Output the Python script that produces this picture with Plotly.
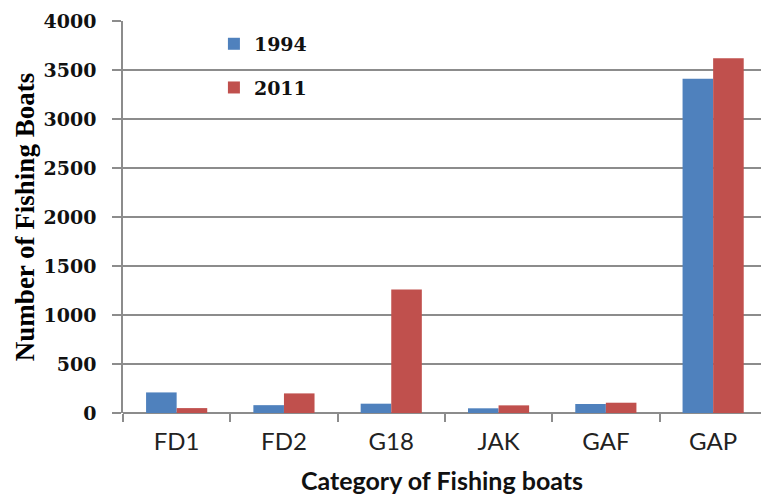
import plotly.graph_objects as go

categories = ["FD1", "FD2", "G18", "JAK", "GAF", "GAP"]
boats_1994 = [210, 80, 95, 48, 92, 3410]
boats_2011 = [50, 200, 1260, 78, 105, 3620]

BLUE = "#4F81BD"
RED = "#C0504D"
GRID = "#8C8C8C"
SERIF = "DejaVu Serif"

fig = go.Figure()
fig.add_trace(go.Bar(name="1994", x=categories, y=boats_1994,
                     marker=dict(color=BLUE, line=dict(width=0)),
                     legendgroup="a"))
fig.add_trace(go.Bar(name="2011", x=categories, y=boats_2011,
                     marker=dict(color=RED, line=dict(width=0)),
                     legendgroup="b"))

fig.update_layout(
    width=761, height=495,
    margin=dict(l=123, r=0, t=21, b=82),
    paper_bgcolor="white", plot_bgcolor="white",
    barmode="group", bargap=0.43, bargroupgap=0,
    showlegend=True,
    legend=dict(x=0.1425, y=0.99, xanchor="left", yanchor="top",
                bgcolor="rgba(0,0,0,0)", tracegroupgap=16,
                font=dict(family=SERIF, size=19, color="#111", weight="bold"),
                itemwidth=30),
    xaxis=dict(
        range=[-0.5, 5.446],
        showgrid=False, showline=False, zeroline=False,
        ticks="outside", tickson="boundaries", ticklen=8,
        tickcolor=GRID, tickwidth=1.5,
        ticklabelstandoff=12,
        tickfont=dict(family="Lato", size=24, color="#222"),
        title=dict(text="<b>Category of Fishing boats</b>",
                   font=dict(family="Lato", size=25, color="#111"),
                   standoff=18),
    ),
    yaxis=dict(
        range=[0, 4000], dtick=500,
        showgrid=True, gridcolor=GRID, gridwidth=1.5,
        showline=True, linecolor=GRID, linewidth=1.5,
        zeroline=True, zerolinecolor=GRID, zerolinewidth=1.5,
        ticks="outside", ticklen=9, tickcolor=GRID, tickwidth=1.5,
        ticklabelstandoff=12,
        tickfont=dict(family=SERIF, size=19, color="#111", weight="bold"),
        title=dict(text="<b>Number of Fishing Boats</b>",
                   font=dict(family="Liberation Serif", size=27, color="#000"),
                   standoff=1),
    ),
)

fig.write_html("out.html")
